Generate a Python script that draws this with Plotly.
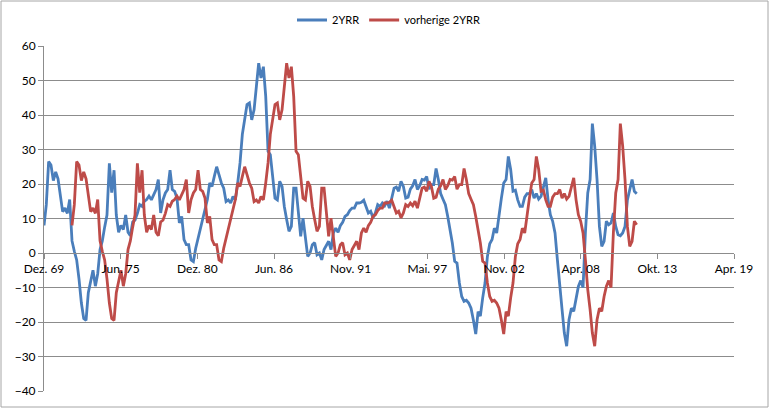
import pandas as pd
import plotly.graph_objects as go

# --- data (2-month steps) ---
yrr_start = "1970-01-01"
yrr_values = [
    8, 14, 26.5, 25.5, 21, 23.5, 21.5, 17, 12, 13, 11.5, 15.5,
    3.5, 0.5, -2, -7.5, -14.5, -19, -19.5, -11.5, -8, -5, -9.6, -6,
    1, 3.5, 7.5, 11, 26, 17.5, 24, 11, 6, 8, 6.8, 11,
    6, 5, 9, 9.5, 11.5, 14, 13.5, 15, 15.5, 16.5, 15.4, 16.9,
    18.4, 21.3, 11.6, 15.4, 17.4, 18.4, 24, 18.4, 17.9, 15.9, 8.7, 10.6,
    3.9, 2.4, 2.4, -2, -2.5, 1.4, 4.3, 7.2, 10.1, 12.6, 15.5, 20.3,
    19.3, 22.2, 25, 22.7, 20.3, 18.8, 14.9, 15.4, 14.5, 16.4, 15.4, 20.3,
    26.1, 34.4, 38.6, 43, 43.5, 38.6, 41.5, 48.3, 55, 50.7, 54, 45.4,
    29.5, 28.5, 22.7, 15.9, 15.4, 20.8, 19.3, 13.5, 9.7, 6.3, 7.7, 18.8,
    18.8, 10.6, 4.8, 10.1, 3.9, -1, 0, 2.4, 3, -0.5, 0, -2,
    1, 2.4, 3.4, 1, 5.8, 7.2, 6, 7.9, 8.9, 10.6, 11.1, 12.3,
    13, 13, 14.5, 14.5, 14.7, 15.3, 13.7, 11.6, 12.1, 10.2, 11.6, 14,
    13.5, 14.5, 13.7, 15, 13, 16.4, 18.8, 19.1, 17.9, 20.8, 19.3, 15.9,
    16.2, 18.5, 19.5, 21.3, 18.4, 19.5, 21.3, 21.1, 22.2, 18.5, 19.8, 19.8,
    24.5, 21.3, 17.2, 15.6, 14, 10.6, 6.8, 2.9, -2.4, -2.9, -8.7, -12.6,
    -14, -13.7, -14.5, -16, -19.5, -23.5, -17, -18.3, -13, -8.7, -1, 2.7,
    3.9, 7.2, 5.8, 11.4, 15.9, 20.3, 21.3, 28, 24.2, 17.9, 18.2, 15.4,
    13.5, 13.5, 16.2, 17.2, 17.2, 18.4, 15.9, 17.2, 15.6, 16.4, 19.3, 21.8,
    15.4, 11.1, 9.2, 5.8, -2, -10.6, -16.4, -23.2, -27, -19.3, -16, -16.9,
    -12.6, -9.7, -8, -10, 6, 17.4, 21.3, 37.5, 31, 21.3, 7.7, 1.9,
    3.4, 9.2, 8.2, 8.7, 11.6, 7.7, 5.3, 5, 5.8, 7.7, 15.4, 18.8,
    21.3, 17.9, 17.2,
]

prev_start = "1972-01-01"
prev_values = [
    8, 14, 26.5, 25.5, 21, 23.5, 21.5, 17, 12, 13, 11.5, 15.5,
    3.5, 0.5, -2, -7.5, -14.5, -19, -19.5, -11.5, -8, -5, -9.6, -6,
    1, 3.5, 7.5, 11, 26, 17.5, 24, 11, 6, 8, 6.8, 11,
    6, 5, 9, 9.5, 11.5, 14, 13.5, 15, 15.5, 16.5, 15.4, 16.9,
    18.4, 21.3, 11.6, 15.4, 17.4, 18.4, 24, 18.4, 17.9, 15.9, 8.7, 10.6,
    3.9, 2.4, 2.4, -2, -2.5, 1.4, 4.3, 7.2, 10.1, 12.6, 15.5, 20.3,
    19.3, 22.2, 25, 22.7, 20.3, 18.8, 14.9, 15.4, 14.5, 16.4, 15.4, 20.3,
    26.1, 34.4, 38.6, 43, 43.5, 38.6, 41.5, 48.3, 55, 50.7, 54, 45.4,
    29.5, 28.5, 22.7, 15.9, 15.4, 20.8, 19.3, 13.5, 9.7, 6.3, 7.7, 18.8,
    18.8, 10.6, 4.8, 10.1, 3.9, -1, 0, 2.4, 3, -0.5, 0, -2,
    1, 2.4, 3.4, 1, 5.8, 7.2, 6, 7.9, 8.9, 10.6, 11.1, 12.3,
    13, 13, 14.5, 14.5, 14.7, 15.3, 13.7, 11.6, 12.1, 10.2, 11.6, 14,
    13.5, 14.5, 13.7, 15, 13, 16.4, 18.8, 19.1, 17.9, 20.8, 19.3, 15.9,
    16.2, 18.5, 19.5, 21.3, 18.4, 19.5, 21.3, 21.1, 22.2, 18.5, 19.8, 19.8,
    24.5, 21.3, 17.2, 15.6, 14, 10.6, 6.8, 2.9, -2.4, -2.9, -8.7, -12.6,
    -14, -13.7, -14.5, -16, -19.5, -23.5, -17, -18.3, -13, -8.7, -1, 2.7,
    3.9, 7.2, 5.8, 11.4, 15.9, 20.3, 21.3, 28, 24.2, 17.9, 18.2, 15.4,
    13.5, 13.5, 16.2, 17.2, 17.2, 18.4, 15.9, 17.2, 15.6, 16.4, 19.3, 21.8,
    15.4, 11.1, 9.2, 5.8, -2, -10.6, -16.4, -23.2, -27, -19.3, -16, -16.9,
    -12.6, -9.7, -8, -10, 6, 17.4, 21.3, 37.5, 31, 21.3, 7.7, 1.9,
    3.4, 9.2, 8.2,
]

tick_labels = ["Dez. 69", "Jun. 75", "Dez. 80", "Jun. 86", "Nov. 91",
               "Mai. 97", "Nov. 02", "Apr. 08", "Okt. 13", "Apr. 19"]
axis_start = pd.Timestamp("1969-12-31")
tick_step_days = 2000

yrr_dates = pd.date_range(yrr_start, periods=len(yrr_values), freq="2MS")
prev_dates = pd.date_range(prev_start, periods=len(prev_values), freq="2MS")
tick_vals = [axis_start + pd.Timedelta(days=tick_step_days * k) for k in range(len(tick_labels))]

FONT = "Lato"
GRID = "#8c8c8c"

fig = go.Figure()
fig.add_trace(go.Scatter(x=yrr_dates, y=yrr_values, mode="lines", name="2YRR",
                         line=dict(color="#4a7ebb", width=2.8)))
fig.add_trace(go.Scatter(x=prev_dates, y=prev_values, mode="lines", name="vorherige 2YRR",
                         line=dict(color="#be4b48", width=2.8)))

W, H = 770, 413
ml, mr, mt, mb = 44, 36, 46, 22
pw, ph = W - ml - mr, H - mt - mb

def px_x(p):
    return (p - ml) / pw

def px_y(p):
    return (H - mb - p) / ph

fig.update_layout(
    width=W, height=H,
    margin=dict(l=ml, r=mr, t=mt, b=mb, autoexpand=False),
    paper_bgcolor="white", plot_bgcolor="white",
    font=dict(family=FONT, size=12, color="#000000"),
    showlegend=True,
    legend=dict(orientation="h", x=px_x(292), xanchor="left", y=px_y(20), yanchor="middle",
                font=dict(family=FONT, size=11), itemwidth=30, bgcolor="rgba(0,0,0,0)"),
    xaxis=dict(type="date", range=[tick_vals[0], tick_vals[-1]],
               tickmode="array", tickvals=tick_vals, ticktext=tick_labels,
               showgrid=False, zeroline=False,
               showline=True, linecolor=GRID, linewidth=1,
               ticks="outside", ticklen=5, tickcolor=GRID,
               anchor="free", position=0.4, automargin=False,
               tickfont=dict(family=FONT, size=12)),
    yaxis=dict(range=[-40, 60], dtick=10, tick0=0,
               showgrid=True, gridcolor=GRID, gridwidth=1, zeroline=False,
               showline=True, linecolor=GRID, linewidth=1,
               ticks="outside", ticklen=5, tickcolor=GRID, automargin=False,
               tickfont=dict(family=FONT, size=12)),
    shapes=[dict(type="rect", xref="paper", yref="paper",
                 x0=px_x(1), x1=px_x(768), y0=px_y(407), y1=px_y(1),
                 line=dict(color="#a6a6a6", width=1), layer="below")],
)

fig.write_html("out.html",
               config={"displayModeBar": False},
               post_script="document.body.style.margin='0';document.body.style.overflow='hidden';")
